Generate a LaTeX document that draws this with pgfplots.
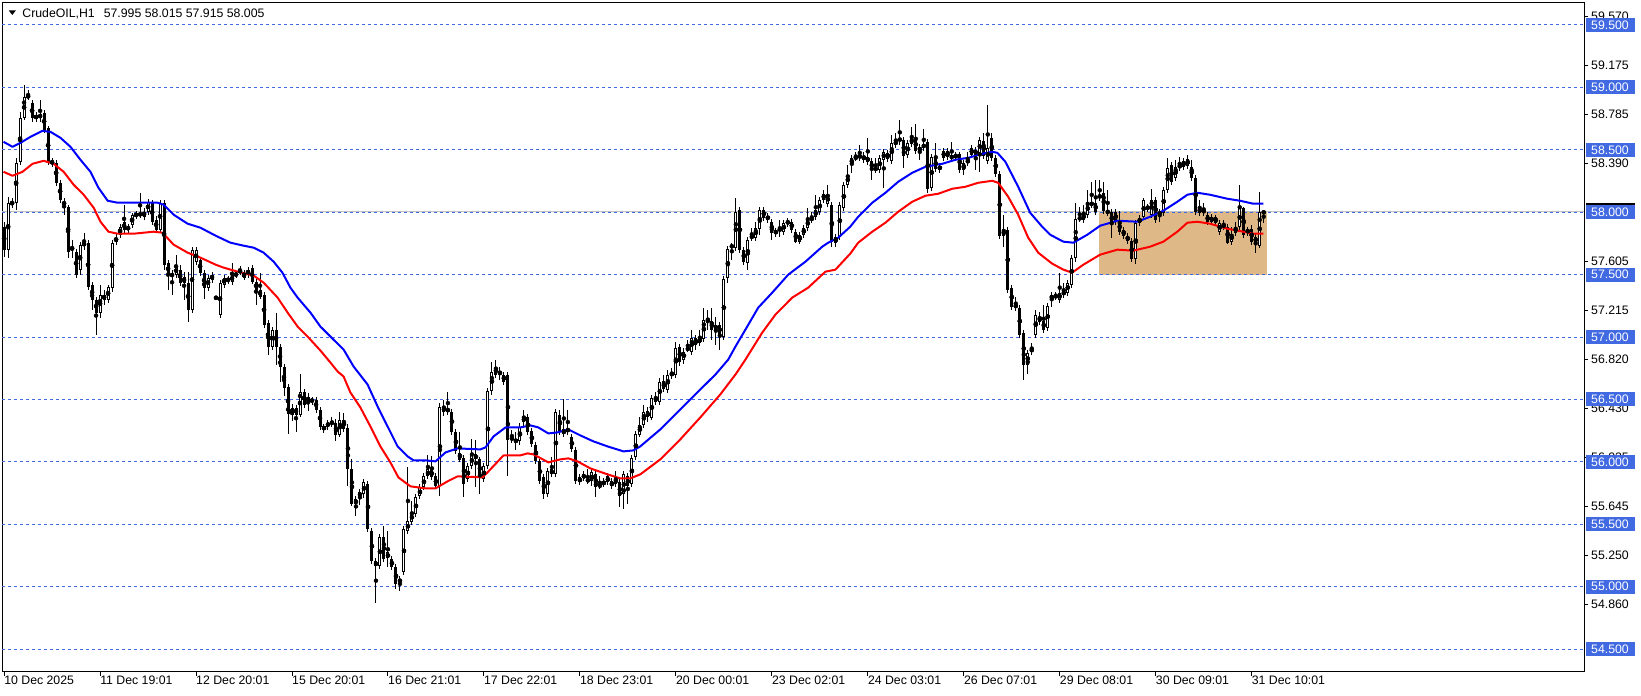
\documentclass[border=0pt]{standalone}
\usepackage{fontspec}
\setmainfont{Liberation Sans}
\usepackage{pgfplots}
\usepackage{pgfplotstable}
\pgfplotsset{compat=1.18}
\definecolor{lvl}{RGB}{65,105,225}
\definecolor{zone}{RGB}{222,184,135}
\definecolor{bidc}{RGB}{192,192,192}

% H1 candles: index, open, high, low, close
\pgfplotstableread{
x o h l c
0 57.884 57.924 57.644 57.700
1 57.700 58.124 57.636 58.076
2 58.076 58.116 58.036 58.068
3 58.076 58.436 58.020 58.396
4 58.404 58.804 58.380 58.756
5 58.756 59.020 58.740 58.924
6 58.924 58.980 58.900 58.932
7 58.876 58.900 58.724 58.756
8 58.772 58.804 58.724 58.756
9 58.756 58.900 58.724 58.788
10 58.796 58.820 58.636 58.660
11 58.676 58.692 58.380 58.396
12 58.404 58.436 58.364 58.396
13 58.396 58.420 58.212 58.236
14 58.236 58.260 58.076 58.100
15 58.084 58.116 57.980 58.060
16 58.044 58.060 57.636 57.684
17 57.716 57.780 57.636 57.708
18 57.684 57.708 57.476 57.500
19 57.540 57.764 57.500 57.740
20 57.756 57.836 57.700 57.732
21 57.756 57.780 57.380 57.404
22 57.420 57.444 57.220 57.300
23 57.300 57.324 57.020 57.196
24 57.196 57.420 57.156 57.340
25 57.300 57.380 57.260 57.340
26 57.300 57.420 57.276 57.404
27 57.396 57.780 57.364 57.756
28 57.764 57.828 57.740 57.796
29 57.820 57.908 57.796 57.884
30 57.924 58.060 57.836 57.860
31 57.860 57.908 57.836 57.884
32 57.900 57.996 57.876 57.980
33 57.980 58.012 57.948 57.978
34 57.980 58.156 57.956 57.988
35 57.964 58.036 57.940 58.004
36 58.004 58.108 57.980 58.084
37 58.076 58.100 57.900 57.924
38 57.940 57.972 57.836 57.860
39 57.860 58.100 57.836 58.076
40 58.076 58.100 57.540 57.580
41 57.596 57.620 57.380 57.500
42 57.500 57.540 57.340 57.496
43 57.500 57.660 57.476 57.564
44 57.540 57.580 57.412 57.436
45 57.480 57.524 57.300 57.436
46 57.436 57.524 57.124 57.220
47 57.220 57.724 57.196 57.700
48 57.604 57.724 57.580 57.700
49 57.620 57.644 57.492 57.516
50 57.516 57.540 57.308 57.396
51 57.396 57.500 57.372 57.476
52 57.460 57.524 57.436 57.500
53 57.316 57.332 57.300 57.312
54 57.180 57.460 57.156 57.436
55 57.420 57.500 57.396 57.476
56 57.460 57.492 57.428 57.456
57 57.444 57.596 57.420 57.500
58 57.500 57.524 57.476 57.504
59 57.524 57.572 57.500 57.532
60 57.516 57.540 57.460 57.476
61 57.500 57.564 57.476 57.540
62 57.556 57.580 57.428 57.444
63 57.444 57.468 57.260 57.380
64 57.380 57.516 57.308 57.324
65 57.340 57.364 57.076 57.100
66 57.116 57.140 56.860 56.924
67 56.924 57.084 56.900 57.060
68 57.060 57.196 56.780 56.924
69 56.924 56.948 56.644 56.764
70 56.764 56.788 56.524 56.596
71 56.596 56.620 56.220 56.380
72 56.380 56.460 56.324 56.436
73 56.436 56.460 56.244 56.380
74 56.380 56.700 56.356 56.564
75 56.564 56.588 56.436 56.460
76 56.484 56.548 56.404 56.524
77 56.484 56.524 56.460 56.500
78 56.500 56.524 56.396 56.420
79 56.420 56.444 56.260 56.284
80 56.260 56.308 56.236 56.284
81 56.284 56.340 56.260 56.316
82 56.316 56.356 56.276 56.312
83 56.316 56.340 56.164 56.220
84 56.220 56.396 56.196 56.340
85 56.340 56.396 56.244 56.268
86 56.276 56.300 55.804 55.940
87 55.940 56.028 55.644 55.660
88 55.660 55.724 55.564 55.700
89 55.724 55.780 55.652 55.756
90 55.740 55.868 55.716 55.836
91 55.820 55.844 55.436 55.460
92 55.444 55.468 55.180 55.204
93 55.204 55.228 54.868 55.164
94 55.164 55.420 55.140 55.396
95 55.396 55.484 55.196 55.220
96 55.228 55.444 55.156 55.276
97 55.220 55.244 55.132 55.156
98 55.156 55.180 54.980 55.020
99 55.036 55.084 54.964 55.060
100 55.116 55.484 55.092 55.460
101 55.444 55.956 55.420 55.524
102 55.516 55.684 55.492 55.596
103 55.580 55.740 55.556 55.716
104 55.724 55.820 55.700 55.796
105 55.796 55.908 55.772 55.884
106 55.884 56.060 55.860 55.940
107 55.940 56.044 55.852 55.876
108 55.884 55.908 55.780 55.804
109 55.804 56.468 55.724 56.444
110 56.444 56.500 56.372 56.396
111 56.404 56.564 56.380 56.428
112 56.404 56.428 56.220 56.244
113 56.236 56.260 56.060 56.084
114 56.076 56.236 55.996 56.020
115 56.036 56.060 55.716 55.820
116 55.860 55.988 55.836 55.964
117 55.964 56.180 55.940 56.060
118 56.060 56.180 55.804 56.020
119 56.020 56.044 55.740 55.876
120 55.860 55.988 55.836 55.964
121 55.964 56.588 55.940 56.564
122 56.564 56.804 56.540 56.724
123 56.764 56.820 56.676 56.700
124 56.716 56.764 56.660 56.712
125 56.700 56.724 56.620 56.644
126 56.700 56.724 55.884 56.180
127 56.196 56.260 56.156 56.180
128 56.164 56.244 56.100 56.172
129 56.164 56.316 56.140 56.276
130 56.364 56.420 56.292 56.316
131 56.356 56.380 56.212 56.236
132 56.244 56.268 56.116 56.140
133 56.140 56.164 55.980 56.004
134 56.004 56.028 55.820 55.844
135 55.876 55.900 55.700 55.740
136 55.740 55.948 55.716 55.924
137 55.940 56.044 55.876 55.900
138 55.900 56.428 55.876 56.404
139 56.380 56.420 56.220 56.244
140 56.220 56.500 56.196 56.260
141 56.244 56.420 56.220 56.268
142 56.196 56.220 56.076 56.100
143 56.100 56.124 55.820 55.844
144 55.836 55.900 55.812 55.876
145 55.868 55.924 55.844 55.900
146 55.860 55.940 55.820 55.844
147 55.844 55.940 55.804 55.916
148 55.900 55.924 55.716 55.796
149 55.804 55.884 55.780 55.820
150 55.820 55.868 55.796 55.844
151 55.884 55.908 55.812 55.836
152 55.844 55.868 55.780 55.804
153 55.820 55.924 55.796 55.876
154 55.836 55.860 55.636 55.724
155 55.740 55.924 55.620 55.900
156 55.884 55.908 55.660 55.804
157 55.820 56.060 55.796 56.036
158 56.036 56.244 56.012 56.220
159 56.220 56.356 56.196 56.300
160 56.300 56.460 56.276 56.404
161 56.404 56.444 56.324 56.356
162 56.356 56.540 56.340 56.516
163 56.524 56.564 56.460 56.484
164 56.484 56.676 56.460 56.644
165 56.644 56.692 56.556 56.580
166 56.580 56.740 56.556 56.700
167 56.700 56.756 56.660 56.708
168 56.700 56.964 56.676 56.916
169 56.924 56.948 56.772 56.804
170 56.820 56.916 56.788 56.884
171 56.908 56.980 56.884 56.904
172 56.884 57.060 56.860 56.996
173 56.996 57.020 56.900 56.940
174 56.956 57.060 56.932 56.996
175 56.988 57.236 56.964 57.140
176 57.132 57.220 57.060 57.128
177 57.132 57.236 56.980 57.060
178 57.060 57.164 56.940 57.100
179 57.100 57.124 56.900 57.020
180 57.004 57.492 56.980 57.468
181 57.476 57.732 57.436 57.708
182 57.724 57.756 57.620 57.732
183 57.716 58.116 57.692 58.004
184 58.020 58.044 57.676 57.700
185 57.700 57.724 57.580 57.604
186 57.596 57.804 57.540 57.780
187 57.796 57.876 57.772 57.812
188 57.796 57.924 57.772 57.876
189 57.868 58.044 57.820 58.020
190 58.020 58.044 57.932 57.956
191 57.972 57.996 57.916 57.940
192 57.924 57.948 57.780 57.836
193 57.844 57.876 57.804 57.840
194 57.860 57.940 57.804 57.864
195 57.844 57.940 57.820 57.916
196 57.916 57.956 57.884 57.920
197 57.924 57.948 57.836 57.860
198 57.844 57.868 57.756 57.764
199 57.764 57.844 57.748 57.820
200 57.820 57.900 57.796 57.876
201 57.876 58.036 57.852 57.948
202 57.940 58.004 57.916 57.956
203 57.964 58.140 57.940 58.020
204 58.004 58.124 57.980 58.100
205 58.100 58.180 58.076 58.148
206 58.068 58.220 58.044 58.140
207 58.060 58.084 57.724 57.764
208 57.756 57.828 57.724 57.804
209 57.804 58.084 57.780 58.060
210 58.036 58.244 58.012 58.220
211 58.220 58.380 58.196 58.300
212 58.380 58.460 58.316 58.436
213 58.436 58.484 58.412 58.440
214 58.436 58.540 58.412 58.460
215 58.452 58.484 58.396 58.420
216 58.444 58.596 58.380 58.404
217 58.412 58.436 58.260 58.340
218 58.356 58.436 58.316 58.340
219 58.340 58.460 58.316 58.436
220 58.420 58.508 58.196 58.484
221 58.476 58.500 58.404 58.428
222 58.412 58.620 58.388 58.556
223 58.540 58.636 58.516 58.572
224 58.580 58.740 58.540 58.584
225 58.580 58.604 58.356 58.452
226 58.460 58.580 58.436 58.556
227 58.548 58.684 58.524 58.596
228 58.596 58.708 58.468 58.492
229 58.524 58.548 58.420 58.492
230 58.516 58.668 58.492 58.548
231 58.564 58.588 58.156 58.188
232 58.196 58.468 58.172 58.444
233 58.436 58.556 58.324 58.348
234 58.340 58.396 58.316 58.372
235 58.436 58.516 58.412 58.492
236 58.492 58.516 58.420 58.444
237 58.452 58.564 58.412 58.436
238 58.452 58.484 58.420 58.448
239 58.468 58.484 58.316 58.340
240 58.340 58.420 58.300 58.396
241 58.396 58.484 58.372 58.420
242 58.460 58.540 58.436 58.516
243 58.500 58.524 58.340 58.460
244 58.476 58.604 58.324 58.580
245 58.572 58.636 58.428 58.452
246 58.412 58.860 58.388 58.516
247 58.596 58.636 58.412 58.436
248 58.436 58.460 58.284 58.308
249 58.308 58.332 57.788 57.812
250 57.812 57.980 57.724 57.860
251 57.860 57.884 57.356 57.380
252 57.396 57.420 57.220 57.244
253 57.260 57.324 57.212 57.236
254 57.236 57.260 56.996 57.020
255 57.036 57.060 56.660 56.780
256 56.780 56.900 56.700 56.876
257 56.884 56.956 56.860 56.908
258 57.020 57.220 56.996 57.180
259 57.164 57.204 57.100 57.124
260 57.132 57.260 57.036 57.060
261 57.076 57.276 57.052 57.252
262 57.300 57.364 57.244 57.340
263 57.324 57.364 57.300 57.328
264 57.300 57.516 57.276 57.356
265 57.340 57.436 57.316 57.364
266 57.356 57.460 57.332 57.436
267 57.420 57.660 57.396 57.636
268 57.636 58.076 57.604 57.948
269 57.948 58.044 57.924 57.956
270 57.940 58.060 57.916 57.988
271 57.980 58.180 57.956 58.084
272 58.060 58.244 58.036 58.076
273 58.076 58.260 57.980 58.004
274 58.116 58.260 58.092 58.140
275 58.156 58.244 57.988 58.012
276 58.012 58.180 57.972 57.996
277 58.004 58.028 57.796 57.900
278 58.004 58.028 57.900 57.924
279 57.924 58.012 57.820 57.844
280 57.860 57.884 57.788 57.812
281 57.812 57.836 57.748 57.772
282 57.772 57.796 57.604 57.628
283 57.628 57.940 57.588 57.916
284 57.916 57.980 57.892 57.956
285 57.964 58.116 57.940 58.100
286 58.036 58.068 58.004 58.040
287 57.980 58.188 57.956 58.100
288 58.100 58.124 57.916 57.940
289 57.980 58.028 57.924 58.004
290 57.996 58.204 57.972 58.180
291 58.180 58.436 58.156 58.356
292 58.380 58.404 58.220 58.244
293 58.276 58.420 58.252 58.364
294 58.380 58.444 58.332 58.356
295 58.364 58.436 58.340 58.412
296 58.372 58.460 58.348 58.428
297 58.364 58.420 58.252 58.276
298 58.276 58.300 57.980 58.004
299 58.036 58.100 57.972 57.996
300 57.996 58.076 57.972 58.020
301 57.980 58.004 57.900 57.924
302 57.964 57.988 57.900 57.924
303 57.916 57.980 57.892 57.964
304 57.844 57.940 57.820 57.916
305 57.884 57.940 57.860 57.900
306 57.884 57.908 57.748 57.756
307 57.764 57.884 57.740 57.828
308 57.836 57.924 57.812 57.884
309 57.884 58.220 57.860 58.036
310 58.036 58.044 57.796 57.820
311 57.836 57.884 57.812 57.860
312 57.868 57.900 57.740 57.764
313 57.804 57.828 57.676 57.756
314 57.732 58.164 57.716 58.004
315 57.995 58.015 57.915 58.005
}\candles

\begin{document}
\fontsize{12.3pt}{14pt}\selectfont
\begin{tikzpicture}
\path (0pt,0pt) rectangle (1641pt,-696pt);
\begin{axis}[
  name=ax, at={(2pt,-3pt)}, anchor=north west,
  scale only axis, width=1582pt, height=669pt,
  xmin=-0.4, xmax=395.1, ymin=54.3182, ymax=59.6762,
  clip=false,
  axis line style={black, line width=1pt},
  tick align=outside, major tick length=4pt,
  tick style={black, line width=1pt},
  xtick pos=left, ytick pos=right, yticklabel pos=right,
  xtick={0,24,...,312},
  xticklabels={10 Dec 2025, 11 Dec 19:01, 12 Dec 20:01, 15 Dec 20:01, 16 Dec 21:01, 17 Dec 22:01, 18 Dec 23:01, 20 Dec 00:01, 23 Dec 02:01, 24 Dec 03:01, 26 Dec 07:01, 29 Dec 08:01, 30 Dec 09:01, 31 Dec 10:01},
  xticklabel style={anchor=north west, inner sep=0pt},
  ytick={54.86,55.25,55.645,56.035,56.43,56.82,57.215,57.605,58.39,58.785,59.175,59.57},
  yticklabels={54.860,55.250,55.645,56.035,56.430,56.820,57.215,57.605,58.390,58.785,59.175,59.570},
  yticklabel style={anchor=west, inner sep=0pt, xshift=3pt},
  every tick label/.append style={font=\fontsize{12.3pt}{14pt}\selectfont},
]
% consolidation zone
\fill[zone] (axis cs:273.85,57.5) rectangle (axis cs:315.85,58.0);
% bid line
\draw[bidc, line width=1pt] (axis cs:-0.4,58.005) -- (axis cs:395.1,58.005);
% round-number levels
\pgfplotsinvokeforeach{54.5,55,55.5,56,56.5,57,57.5,58,58.5,59,59.5}{
  \draw[lvl, line width=1pt, dash pattern=on 3pt off 3pt] (axis cs:-0.4,#1) -- (axis cs:395.1,#1);
}
% wicks
\addplot[only marks, mark=none, error bars/.cd, y dir=both, y explicit, error mark=none,
  error bar style={draw=black, line width=1pt}]
  table[x=x, y expr={(\thisrow{h}+\thisrow{l})/2}, y error expr={(\thisrow{h}-\thisrow{l})/2}] {\candles};
% bodies
\addplot[only marks, mark=none, error bars/.cd, y dir=both, y explicit, error mark=none,
  error bar style={draw=black, line width=3pt}]
  table[x=x, y expr={(\thisrow{o}+\thisrow{c})/2}, y error expr={max(abs(\thisrow{c}-\thisrow{o})/2,0.004)}] {\candles};
% hollow up candles
\addplot[only marks, mark=none, error bars/.cd, y dir=both, y explicit, error mark=none,
  error bar style={draw=white, line width=1pt}]
  table[x=x, y expr={(\thisrow{o}+\thisrow{c})/2}, y error expr={max((\thisrow{c}-\thisrow{o})/2-0.008,0)}] {\candles};
% moving averages
\addplot[blue, line width=2pt, line join=round] coordinates {
(-0.15,58.564) (2.1,58.524) (4.1,58.556) (6.6,58.604) (9.6,58.652) (11.6,58.644) (14.1,58.596) (16.6,58.524) (19.1,58.420) (21.6,58.324) (23.6,58.196) (25.9,58.092) (28.4,58.076) (33.4,58.076) (38.4,58.076) (39.9,58.060) (42.4,57.980) (45.9,57.908) (49.1,57.876) (52.9,57.812) (56.6,57.756) (59.9,57.732) (62.4,57.716) (64.9,57.676) (67.4,57.604) (69.6,57.516) (71.6,57.396) (73.4,57.316) (76.6,57.196) (79.1,57.084) (81.6,57.004) (84.9,56.900) (87.4,56.764) (90.9,56.620) (93.4,56.444) (95.9,56.284) (98.4,56.124) (100.9,56.044) (102.4,56.012) (105.4,56.012) (107.9,56.004) (110.4,56.076) (113.4,56.108) (119.1,56.100) (120.4,56.116) (122.4,56.204) (125.4,56.276) (129.1,56.276) (131.6,56.292) (133.6,56.276) (136.1,56.228) (138.4,56.236) (141.1,56.260) (144.1,56.212) (147.4,56.164) (150.9,56.124) (154.9,56.084) (157.4,56.092) (159.1,56.124) (164.1,56.260) (169.1,56.420) (174.1,56.580) (177.9,56.700) (181.1,56.820) (182.9,56.924) (185.4,57.060) (188.6,57.236) (192.1,57.356) (196.1,57.500) (200.4,57.604) (204.6,57.724) (206.1,57.756) (208.6,57.796) (211.6,57.884) (213.6,57.964) (217.1,58.076) (220.4,58.156) (223.6,58.244) (227.1,58.316) (230.4,58.364) (234.6,58.388) (237.9,58.420) (241.1,58.436) (244.6,58.468) (247.1,58.484) (248.4,58.476) (250.4,58.404) (253.6,58.204) (256.6,57.996) (259.6,57.884) (261.6,57.820) (264.9,57.764) (267.4,57.756) (270.9,57.820) (274.1,57.892) (278.4,57.932) (283.4,57.924) (286.6,57.964) (289.9,58.012) (293.4,58.084) (295.9,58.140) (298.4,58.156) (301.6,58.140) (305.9,58.108) (309.1,58.092) (312.4,58.068) (314.9,58.068)
};
\addplot[red, line width=2pt, line join=round] coordinates {
(-0.15,58.324) (2.1,58.292) (4.6,58.324) (7.1,58.388) (9.9,58.412) (12.4,58.388) (14.9,58.324) (17.4,58.220) (19.9,58.140) (22.4,58.036) (24.1,57.924) (26.1,57.844) (28.4,57.828) (32.4,57.828) (37.4,57.844) (39.6,57.836) (42.4,57.740) (45.9,57.676) (49.1,57.636) (52.9,57.580) (54.9,57.556) (58.4,57.524) (62.4,57.492) (64.9,57.436) (68.4,57.316) (70.9,57.196) (73.4,57.084) (75.9,57.004) (79.1,56.892) (81.6,56.796) (83.4,56.724) (84.9,56.684) (86.6,56.556) (89.1,56.436) (91.6,56.284) (94.1,56.124) (96.6,55.996) (98.6,55.876) (101.6,55.804) (105.4,55.788) (107.9,55.788) (110.9,55.844) (113.4,55.884) (119.6,55.876) (120.9,55.916) (124.9,56.052) (129.1,56.052) (130.9,56.068) (132.4,56.060) (136.1,55.996) (139.1,56.020) (141.1,56.028) (143.4,56.004) (146.6,55.948) (150.9,55.900) (154.1,55.868) (156.6,55.868) (159.1,55.900) (164.1,56.020) (169.1,56.180) (174.1,56.356) (179.1,56.540) (182.9,56.700) (185.4,56.820) (189.6,57.036) (192.9,57.180) (197.1,57.316) (201.1,57.396) (205.4,57.524) (207.9,57.540) (211.6,57.668) (213.6,57.756) (217.1,57.844) (220.4,57.916) (223.6,58.004) (227.1,58.084) (230.4,58.132) (233.6,58.148) (237.1,58.188) (240.4,58.204) (243.6,58.236) (247.1,58.252) (248.6,58.236) (251.1,58.124) (253.6,57.980) (256.1,57.796) (258.6,57.676) (262.1,57.588) (264.9,57.540) (267.1,57.516) (269.9,57.580) (274.1,57.660) (278.4,57.700) (282.4,57.692) (286.6,57.724) (289.9,57.764) (293.4,57.844) (295.9,57.916) (298.4,57.924) (301.6,57.908) (305.9,57.868) (309.9,57.844) (312.4,57.828) (314.9,57.828)
};
\end{axis}
% bid price box behind the 58.000 label
\fill[black] (1586pt,-203pt) rectangle (1635pt,-212pt);
% level labels on the price scale
\foreach \v/\t in {59.5/59.500, 59/59.000, 58.5/58.500, 58/58.000, 57.5/57.500, 57/57.000, 56.5/56.500, 56/56.000, 55.5/55.500, 55/55.000, 54.5/54.500}{
  \pgfmathsetmacro\yy{-25-(59.5-\v)*124.86}
  \pgfmathsetmacro\ya{\yy-7}
  \pgfmathsetmacro\yb{\yy+7}
  \fill[lvl] (1586pt,\ya pt) rectangle (1635pt,\yb pt);
  \node[anchor=west, inner sep=0pt, text=white] at (1591pt,\yy pt) {\t};
}
% chart caption
\fill[black] (8.3pt,-10.5pt) -- (15.3pt,-10.5pt) -- (11.8pt,-15pt) -- cycle;
\node[anchor=base west, inner sep=0pt] at (21.7pt,-17.2pt) {CrudeOIL,H1\hspace{9pt}57.995 58.015 57.915 58.005};
\end{tikzpicture}
\end{document}
